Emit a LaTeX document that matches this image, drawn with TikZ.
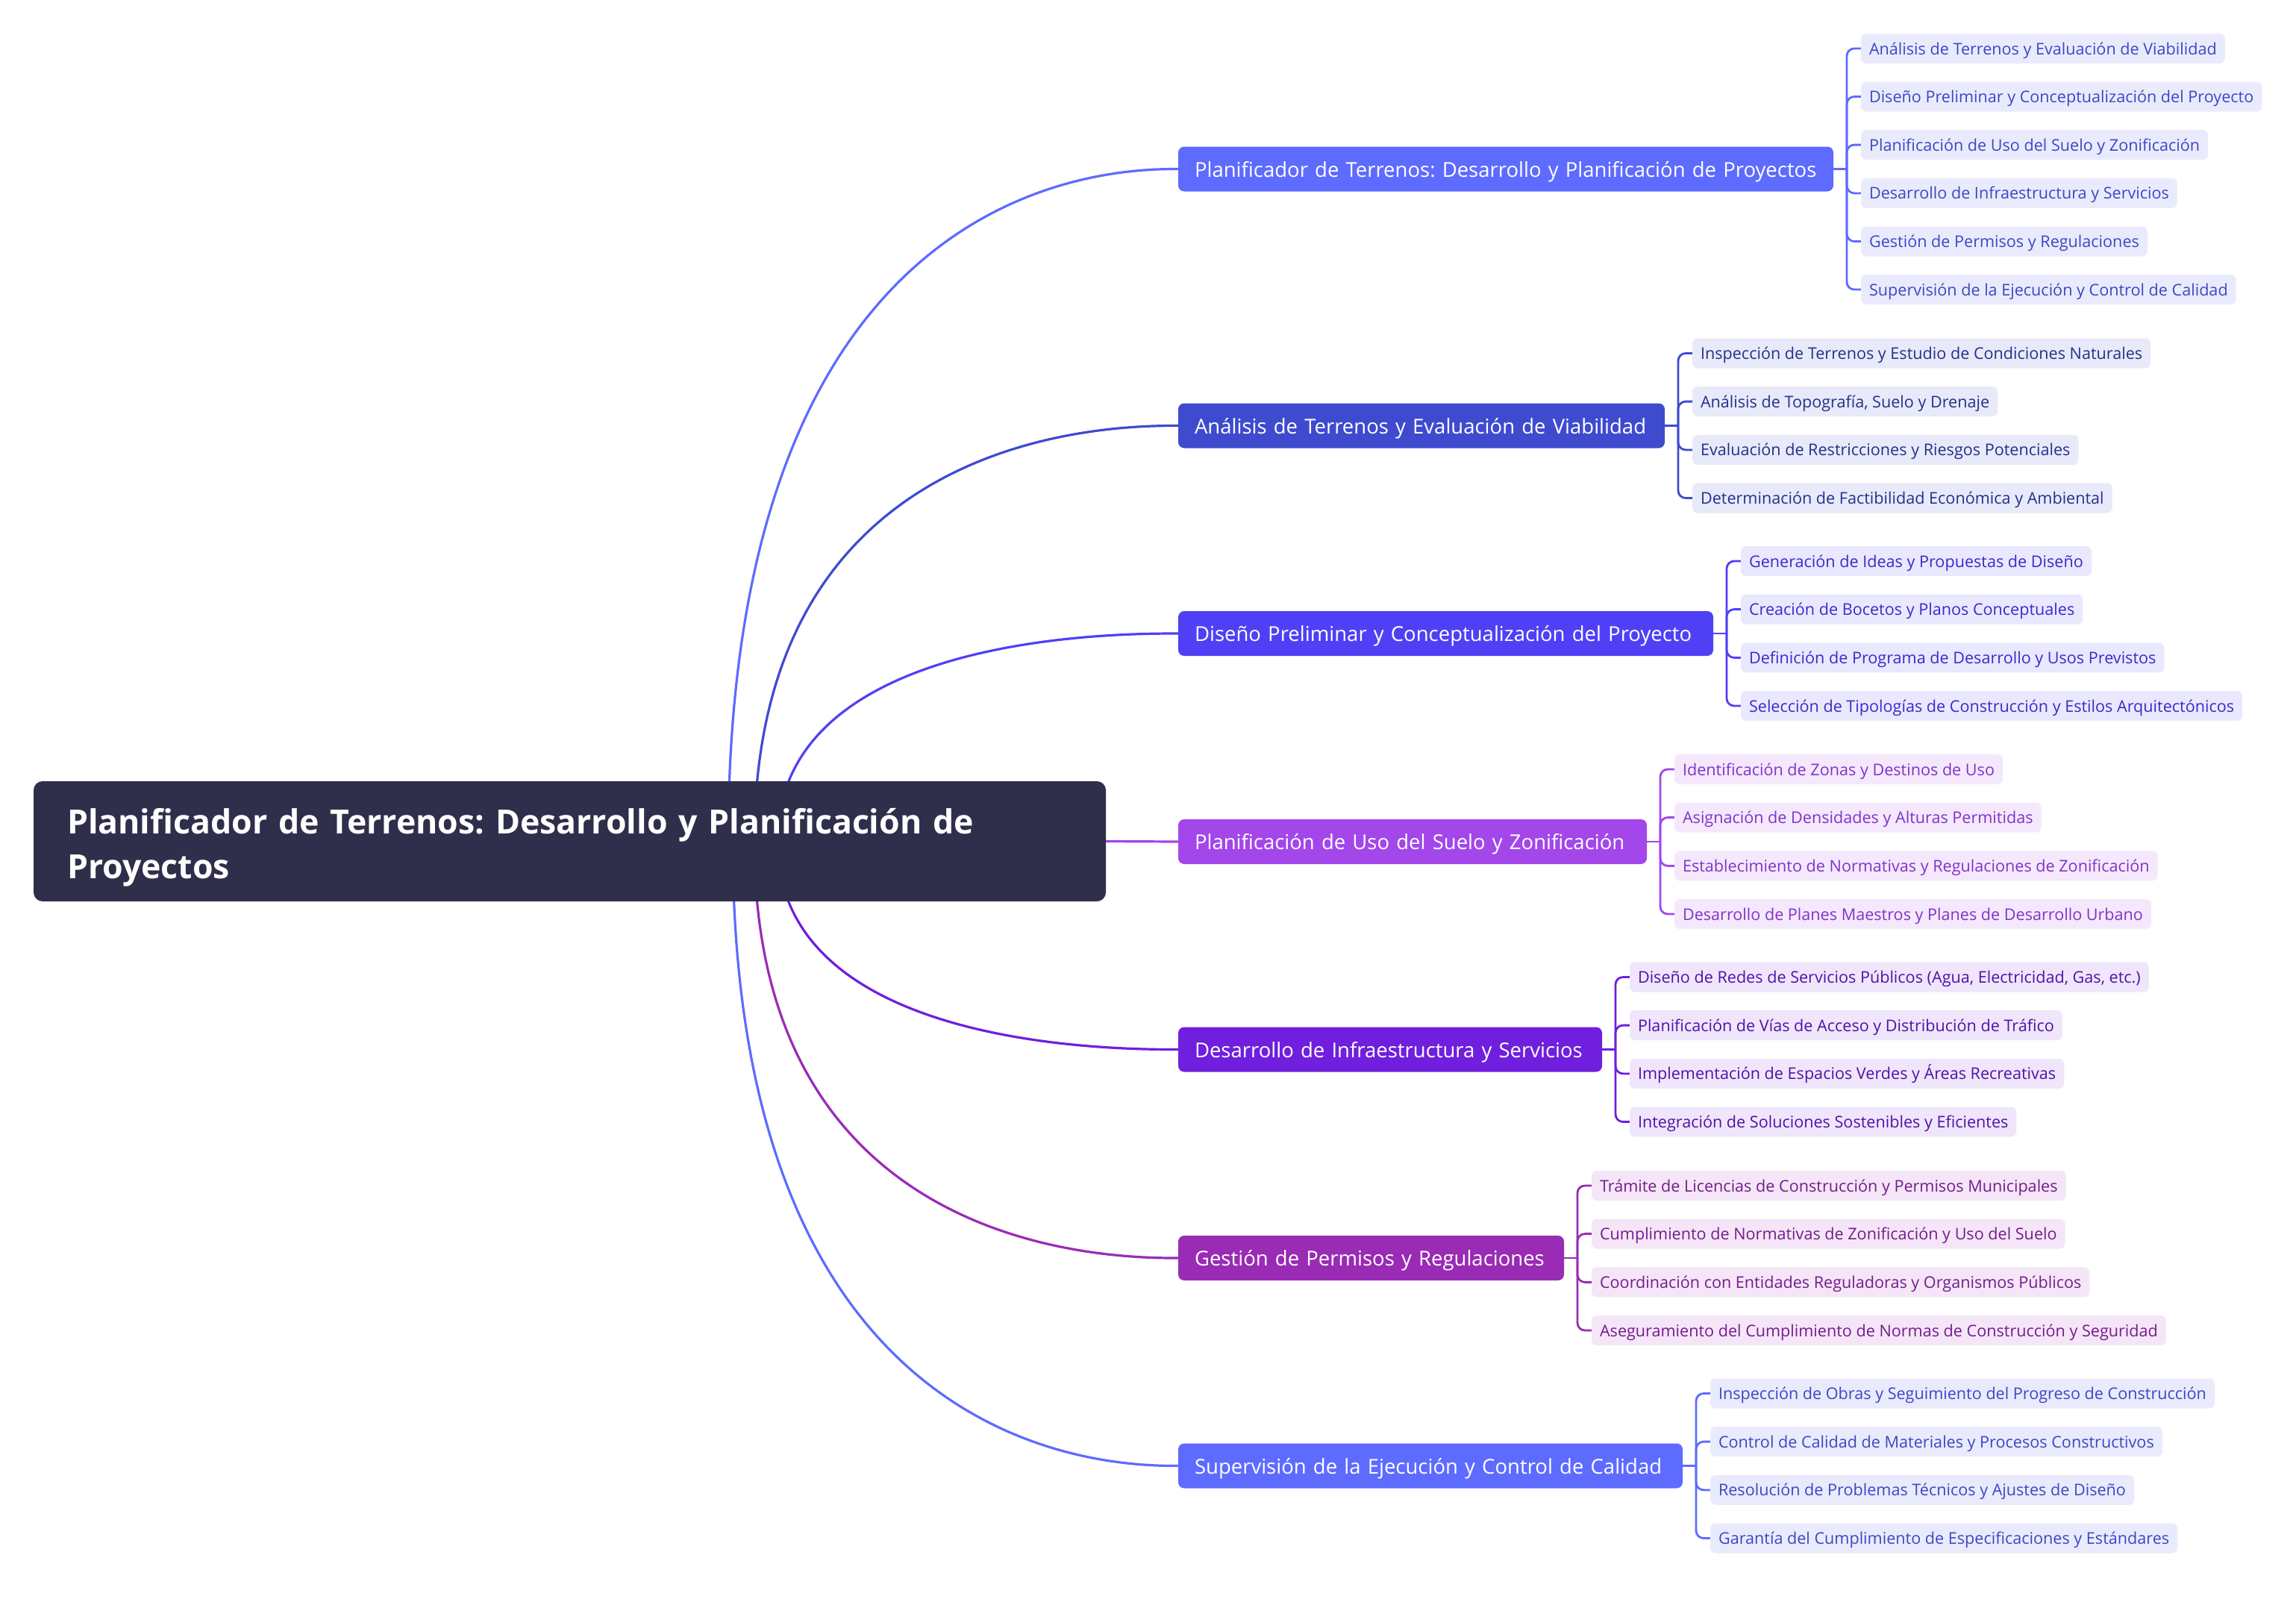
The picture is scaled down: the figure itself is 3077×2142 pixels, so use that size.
\documentclass[tikz,border=0pt]{standalone}
\usepackage{fontspec}
\setmainfont{Open Sans}
\frenchspacing
\usetikzlibrary{calc,backgrounds}
\definecolor{rootc}{HTML}{302F4B}
\definecolor{cA}{HTML}{5E6BFF}
\definecolor{cB}{HTML}{3E4BCF}
\definecolor{cC}{HTML}{5040F5}
\definecolor{cD}{HTML}{A346EA}
\definecolor{cE}{HTML}{6F1FDD}
\definecolor{cF}{HTML}{9A2BB5}
\definecolor{fA}{HTML}{E9EBFD}
\definecolor{fB}{HTML}{E8EAF9}
\definecolor{fC}{HTML}{EAE8FE}
\definecolor{fD}{HTML}{F4E8FD}
\definecolor{fE}{HTML}{EFE6FC}
\definecolor{fF}{HTML}{F4E6F7}
\definecolor{tA}{HTML}{3C47C2}
\definecolor{tB}{HTML}{262F8A}
\definecolor{tC}{HTML}{3A2BC8}
\definecolor{tD}{HTML}{8332C8}
\definecolor{tE}{HTML}{4F12A6}
\definecolor{tF}{HTML}{761B8E}
\tikzset{
  rootbox/.style={fill=rootc, text=white, rounded corners=12pt, font=\fontsize{44.6}{60}\selectfont\bfseries,
    align=left, anchor=north west, minimum width=1437pt, minimum height=161pt, inner xsep=45pt,
    inner ysep=0pt, text width=1347pt, outer sep=0pt},
  branch/.style={rounded corners=8pt, text=white, font=\fontsize{27.5}{33}\selectfont, anchor=west,
    minimum height=60pt, inner xsep=22pt, inner ysep=0pt, outer sep=0pt, align=left,
    text height=27pt, text depth=6pt},
  leaf/.style={rounded corners=7pt, font=\fontsize{21.6}{26}\selectfont, anchor=west,
    minimum height=40pt, inner xsep=11pt, inner ysep=0pt, outer sep=0pt,
    text height=20pt, text depth=4pt},
  conn/.style={line width=3.2pt},
  sub/.style={line width=2.8pt, rounded corners=10pt},
}
\begin{document}
\begin{tikzpicture}[x=1pt,y=-1pt]
\useasboundingbox (0,0) rectangle (3077,2142);
% root
\node[rootbox] (root) at (45,1047) {\rule{0pt}{50pt}Planificador de Terrenos: Desarrollo y Planificación de\\Proyectos};
% branches
\node[branch, fill=cA, text width=834pt] (b1) at (1579,226.5) {Planificador de Terrenos: Desarrollo y Planificación de Proyectos};
\node[branch, fill=cB, text width=608pt] (b2) at (1579,570.5) {Análisis de Terrenos y Evaluación de Viabilidad};
\node[branch, fill=cC, text width=673pt] (b3) at (1579,849) {Diseño Preliminar y Conceptualización del Proyecto};
\node[branch, fill=cD, text width=584pt] (b4) at (1579,1128) {Planificación de Uso del Suelo y Zonificación};
\node[branch, fill=cE, text width=524pt] (b5) at (1579,1406.5) {Desarrollo de Infraestructura y Servicios};
\node[branch, fill=cF, text width=473pt] (b6) at (1579,1686) {Gestión de Permisos y Regulaciones};
\node[branch, fill=cA, text width=632pt] (b7) at (1579,1964.5) {Supervisión de la Ejecución y Control de Calidad};
% leaves branch 1
\node[leaf, fill=fA, text=tA] (l11) at ($(b1.east)+(37,-161.5)$) {Análisis de Terrenos y Evaluación de Viabilidad};
\node[leaf, fill=fA, text=tA] (l12) at ($(b1.east)+(37,-97)$) {Diseño Preliminar y Conceptualización del Proyecto};
\node[leaf, fill=fA, text=tA] (l13) at ($(b1.east)+(37,-32.4)$) {Planificación de Uso del Suelo y Zonificación};
\node[leaf, fill=fA, text=tA] (l14) at ($(b1.east)+(37,32.4)$) {Desarrollo de Infraestructura y Servicios};
\node[leaf, fill=fA, text=tA] (l15) at ($(b1.east)+(37,97)$) {Gestión de Permisos y Regulaciones};
\node[leaf, fill=fA, text=tA] (l16) at ($(b1.east)+(37,161.5)$) {Supervisión de la Ejecución y Control de Calidad};
% leaves branch 2
\node[leaf, fill=fB, text=tB] (l21) at ($(b2.east)+(37,-97)$) {Inspección de Terrenos y Estudio de Condiciones Naturales};
\node[leaf, fill=fB, text=tB] (l22) at ($(b2.east)+(37,-32.4)$) {Análisis de Topografía, Suelo y Drenaje};
\node[leaf, fill=fB, text=tB] (l23) at ($(b2.east)+(37,32.4)$) {Evaluación de Restricciones y Riesgos Potenciales};
\node[leaf, fill=fB, text=tB] (l24) at ($(b2.east)+(37,97)$) {Determinación de Factibilidad Económica y Ambiental};
% leaves branch 3
\node[leaf, fill=fC, text=tC] (l31) at ($(b3.east)+(37,-97)$) {Generación de Ideas y Propuestas de Diseño};
\node[leaf, fill=fC, text=tC] (l32) at ($(b3.east)+(37,-32.4)$) {Creación de Bocetos y Planos Conceptuales};
\node[leaf, fill=fC, text=tC] (l33) at ($(b3.east)+(37,32.4)$) {Definición de Programa de Desarrollo y Usos Previstos};
\node[leaf, fill=fC, text=tC] (l34) at ($(b3.east)+(37,97)$) {Selección de Tipologías de Construcción y Estilos Arquitectónicos};
% leaves branch 4
\node[leaf, fill=fD, text=tD] (l41) at ($(b4.east)+(37,-97)$) {Identificación de Zonas y Destinos de Uso};
\node[leaf, fill=fD, text=tD] (l42) at ($(b4.east)+(37,-32.4)$) {Asignación de Densidades y Alturas Permitidas};
\node[leaf, fill=fD, text=tD] (l43) at ($(b4.east)+(37,32.4)$) {Establecimiento de Normativas y Regulaciones de Zonificación};
\node[leaf, fill=fD, text=tD] (l44) at ($(b4.east)+(37,97)$) {Desarrollo de Planes Maestros y Planes de Desarrollo Urbano};
% leaves branch 5
\node[leaf, fill=fE, text=tE] (l51) at ($(b5.east)+(37,-97)$) {Diseño de Redes de Servicios Públicos (Agua, Electricidad, Gas, etc.)};
\node[leaf, fill=fE, text=tE] (l52) at ($(b5.east)+(37,-32.4)$) {Planificación de Vías de Acceso y Distribución de Tráfico};
\node[leaf, fill=fE, text=tE] (l53) at ($(b5.east)+(37,32.4)$) {Implementación de Espacios Verdes y Áreas Recreativas};
\node[leaf, fill=fE, text=tE] (l54) at ($(b5.east)+(37,97)$) {Integración de Soluciones Sostenibles y Eficientes};
% leaves branch 6
\node[leaf, fill=fF, text=tF] (l61) at ($(b6.east)+(37,-97)$) {Trámite de Licencias de Construcción y Permisos Municipales};
\node[leaf, fill=fF, text=tF] (l62) at ($(b6.east)+(37,-32.4)$) {Cumplimiento de Normativas de Zonificación y Uso del Suelo};
\node[leaf, fill=fF, text=tF] (l63) at ($(b6.east)+(37,32.4)$) {Coordinación con Entidades Reguladoras y Organismos Públicos};
\node[leaf, fill=fF, text=tF] (l64) at ($(b6.east)+(37,97)$) {Aseguramiento del Cumplimiento de Normas de Construcción y Seguridad};
% leaves branch 7
\node[leaf, fill=fA, text=tA] (l71) at ($(b7.east)+(37,-97)$) {Inspección de Obras y Seguimiento del Progreso de Construcción};
\node[leaf, fill=fA, text=tA] (l72) at ($(b7.east)+(37,-32.4)$) {Control de Calidad de Materiales y Procesos Constructivos};
\node[leaf, fill=fA, text=tA] (l73) at ($(b7.east)+(37,32.4)$) {Resolución de Problemas Técnicos y Ajustes de Diseño};
\node[leaf, fill=fA, text=tA] (l74) at ($(b7.east)+(37,97)$) {Garantía del Cumplimiento de Especificaciones y Estándares};
% junctions
\coordinate (j1) at ($(b1.east)+(18,0)$);
\coordinate (j2) at ($(b2.east)+(18,0)$);
\coordinate (j3) at ($(b3.east)+(18,0)$);
\coordinate (j4) at ($(b4.east)+(18,0)$);
\coordinate (j5) at ($(b5.east)+(18,0)$);
\coordinate (j6) at ($(b6.east)+(18,0)$);
\coordinate (j7) at ($(b7.east)+(18,0)$);
% curve starts (hidden under root)
\coordinate (s1) at (976,1128);
\coordinate (s2) at (1011,1128);
\coordinate (s3) at (1042,1128);
\coordinate (s5) at (1042,1128);
\coordinate (s6) at (1011,1128);
\coordinate (s7) at (982,1128);
\begin{scope}[on background layer]
\fill[white] (0,0) rectangle (3077,2142);
\draw[conn, cA] (s1) .. controls (s1 |- b1.west) and ($(b1.west)+(-80,0)$) .. (b1.west);
\draw[conn, cB] (s2) .. controls (s2 |- b2.west) and ($(b2.west)+(-80,0)$) .. (b2.west);
\draw[conn, cC] (s3) .. controls (s3 |- b3.west) and ($(b3.west)+(-80,0)$) .. (b3.west);
\draw[conn, cD] (root.east) -- (b4.west);
\draw[conn, cE] (s5) .. controls (s5 |- b5.west) and ($(b5.west)+(-80,0)$) .. (b5.west);
\draw[conn, cF] (s6) .. controls (s6 |- b6.west) and ($(b6.west)+(-80,0)$) .. (b6.west);
\draw[conn, cA] (s7) .. controls (s7 |- b7.west) and ($(b7.west)+(-80,0)$) .. (b7.west);
% sub connectors
\draw[sub, cA] (b1.east) -- (j1);
\foreach \l in {l11,l12,l13,l14,l15,l16} \draw[sub, cA] (j1) |- (\l.west);
\draw[sub, cB] (b2.east) -- (j2);
\foreach \l in {l21,l22,l23,l24} \draw[sub, cB] (j2) |- (\l.west);
\draw[sub, cC] (b3.east) -- (j3);
\foreach \l in {l31,l32,l33,l34} \draw[sub, cC] (j3) |- (\l.west);
\draw[sub, cD] (b4.east) -- (j4);
\foreach \l in {l41,l42,l43,l44} \draw[sub, cD] (j4) |- (\l.west);
\draw[sub, cE] (b5.east) -- (j5);
\foreach \l in {l51,l52,l53,l54} \draw[sub, cE] (j5) |- (\l.west);
\draw[sub, cF] (b6.east) -- (j6);
\foreach \l in {l61,l62,l63,l64} \draw[sub, cF] (j6) |- (\l.west);
\draw[sub, cA] (b7.east) -- (j7);
\foreach \l in {l71,l72,l73,l74} \draw[sub, cA] (j7) |- (\l.west);
\end{scope}
\end{tikzpicture}
\end{document}
